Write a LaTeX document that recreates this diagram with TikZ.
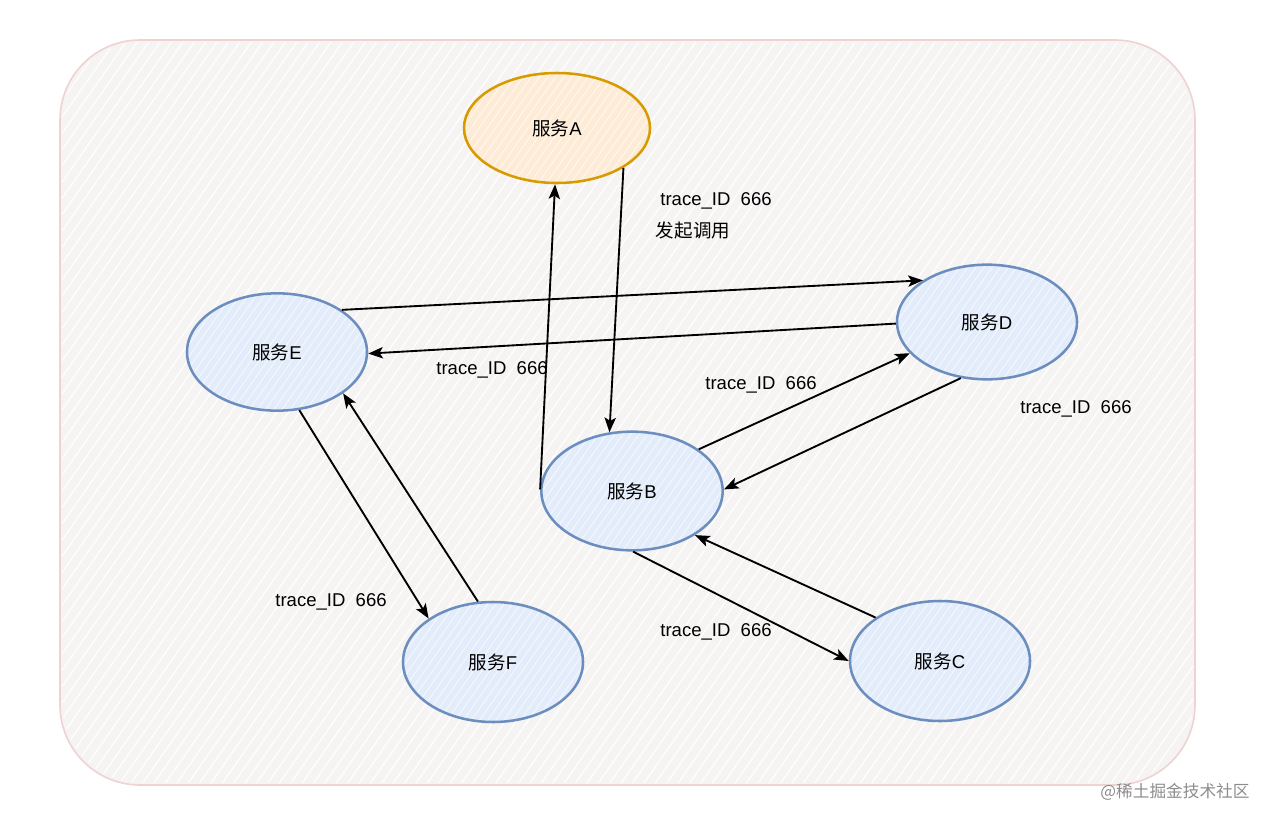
\documentclass[tikz,border=0pt]{standalone}
\usepackage{fontspec}
\setmainfont{Liberation Sans}
\newfontfamily\cjk{Noto Sans CJK SC}
\usetikzlibrary{shapes.geometric,arrows.meta,patterns.meta}
\definecolor{bgfill}{HTML}{F6F3F3}
\definecolor{bgline}{HTML}{EFD3D3}
\definecolor{bluefill}{HTML}{E3ECFA}
\definecolor{bluedraw}{HTML}{6C8EBF}
\definecolor{orangefill}{HTML}{FDEBD6}
\definecolor{orangedraw}{HTML}{D79B00}
\tikzset{
  svcbase/.style={ellipse, line width=1.9pt, inner sep=0pt,
    minimum width=135pt, minimum height=88pt},
  svc/.style={svcbase, draw=bluedraw,
    preaction={fill=bluefill},
    preaction={pattern={Lines[angle=55,distance=5pt,line width=0.8pt]}, pattern color=white, opacity=0.6}},
  svcA/.style={svcbase, draw=orangedraw, minimum width=139.5pt, minimum height=82.5pt,
    preaction={fill=orangefill},
    preaction={pattern={Lines[angle=55,distance=5pt,line width=0.8pt]}, pattern color=white, opacity=0.6}},
  lbl/.style={font=\fontsize{13.9}{16}\selectfont, inner sep=0pt},
  conn/.style={line width=1.4pt, -{Stealth[length=11pt,width=8.5pt,inset=2.5pt]}},
}
\begin{document}
\begin{tikzpicture}[x=0.75pt,y=-0.75pt]
\useasboundingbox (0,0) rectangle (1280,824);
\draw[draw=bgline, fill=bgfill, line width=1.2pt, rounded corners=60pt] (60,40) rectangle (1195,785);
\fill[pattern={Lines[angle=55,distance=7pt,line width=0.9pt]}, pattern color=white, rounded corners=60pt] (62,42) rectangle (1193,783);

\node[svcA] (A) at (557,128) {};
\node[svc] (E) at (277,352) {};
\node[svc, minimum height=86pt] (D) at (987,322) {};
\node[svc, minimum width=136pt, minimum height=89pt] (B) at (632,491) {};
\node[svc, minimum height=90pt] (F) at (493,662) {};
\node[svc, minimum height=90pt] (C) at (940,661) {};
\node[lbl] (tA) at (A.center) {{\cjk 服务}A};
\node[lbl] (tE) at (E.center) {{\cjk 服务}E};
\node[lbl] (tD) at (D.center) {{\cjk 服务}D};
\node[lbl] (tB) at (B.center) {{\cjk 服务}B};
\node[lbl] (tF) at (F.center) {{\cjk 服务}F};
\node[lbl] (tC) at (C.center) {{\cjk 服务}C};

\draw[conn] (A.-31) -- (B.111);
\draw[conn] (B.179) -- (A.-92);
\draw[conn] (E.33) -- (D.147);
\draw[conn] (D.181) -- (E.-1);
\draw[conn] (B.32) -- (D.202);
\draw[conn] (D.245) -- (B.1);
\draw[conn] (B.-89) -- (C.180);
\draw[conn] (C.146) -- (B.-35);
\draw[conn] (E.-69) -- (F.146);
\draw[conn] (F.104) -- (E.-32);

\node[lbl] (l1) at (716,201) {trace\_ID\ \ 666};
\node[lbl] (l1b) at (693,230) {\cjk 发起调用};
\node[lbl] (l2) at (492,370) {trace\_ID\ \ 666};
\node[lbl] (l3) at (761,385) {trace\_ID\ \ 666};
\node[lbl] (l4) at (1076,409) {trace\_ID\ \ 666};
\node[lbl] (l5) at (716,632) {trace\_ID\ \ 666};
\node[lbl] (l6) at (331,602) {trace\_ID\ \ 666};

\node[font=\cjk\fontsize{12.5}{14}\selectfont, text=black!45, inner sep=0pt] (wm) at (1175,792) {@稀土掘金技术社区};
\end{tikzpicture}
\end{document}
